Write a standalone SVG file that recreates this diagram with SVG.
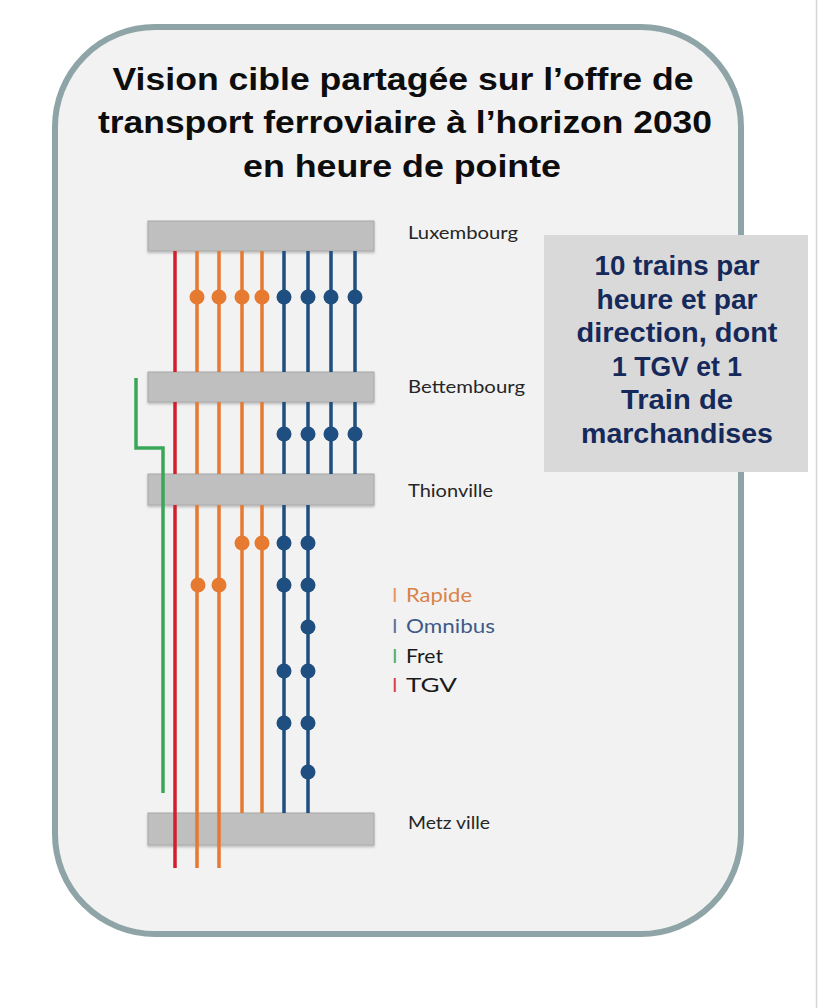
<svg xmlns="http://www.w3.org/2000/svg" width="820" height="1008" viewBox="0 0 820 1008">
<defs>
<style>
.title{font-family:"Liberation Sans",Arial,sans-serif;font-weight:bold;font-size:32px;fill:#0d0d0d;text-anchor:middle}
.info{font-family:"Liberation Sans",Arial,sans-serif;font-weight:bold;font-size:27px;fill:#15295a;text-anchor:middle}
.st{font-family:Lato,"Open Sans",sans-serif;font-size:18px;fill:#262626}
.lg{font-family:Lato,"Open Sans",sans-serif;font-size:20px}
.bar{fill:#bfbfbf;stroke:#a8a8a8;stroke-width:1}
.ln{fill:none;stroke-width:3.5}
.red{stroke:#d2202a}.org{stroke:#e57a30}.blu{stroke:#1f4e80}.grn{stroke:#3aa657}
.dO{fill:#e57a30}.dB{fill:#1f4e80}
</style>
<filter id="sh" x="-5%" y="-20%" width="110%" height="150%"><feDropShadow dx="0" dy="1.5" stdDeviation="1" flood-color="#000" flood-opacity="0.25"/></filter>
</defs>
<rect x="0" y="0" width="820" height="1008" fill="#ffffff"/>
<line x1="816.5" y1="0" x2="816.5" y2="1008" stroke="#d6d6d6" stroke-width="1.5"/>
<g id="frame">
<rect x="55" y="27" width="686" height="907" rx="100" ry="100" fill="#f2f2f2" stroke="#8ea4a6" stroke-width="6"/>
</g>
<g id="title">
<text class="title" x="403" y="90" textLength="581" lengthAdjust="spacingAndGlyphs">Vision cible partagée sur l’offre de</text>
<text class="title" x="405" y="133" textLength="614" lengthAdjust="spacingAndGlyphs">transport ferroviaire à l’horizon 2030</text>
<text class="title" x="402" y="177" textLength="318" lengthAdjust="spacingAndGlyphs">en heure de pointe</text>
</g>
<g id="info-box">
<rect x="544" y="235" width="264" height="237" fill="#d9d9d9"/>
<text class="info" x="677" y="275" textLength="165" lengthAdjust="spacingAndGlyphs">10 trains par</text>
<text class="info" x="677" y="309" textLength="161" lengthAdjust="spacingAndGlyphs">heure et par</text>
<text class="info" x="677" y="342" textLength="201" lengthAdjust="spacingAndGlyphs">direction, dont</text>
<text class="info" x="677" y="376" textLength="130" lengthAdjust="spacingAndGlyphs">1 TGV et 1</text>
<text class="info" x="677" y="409" textLength="112" lengthAdjust="spacingAndGlyphs">Train de</text>
<text class="info" x="677" y="443" textLength="192" lengthAdjust="spacingAndGlyphs">marchandises</text>
</g>
<g id="station-luxembourg">
<rect class="bar" x="148" y="221" width="226" height="30" filter="url(#sh)"/>
<text class="st" x="408" y="239" textLength="110" lengthAdjust="spacingAndGlyphs">Luxembourg</text>
</g>
<g id="station-bettembourg">
<rect class="bar" x="148" y="372" width="226" height="30" filter="url(#sh)"/>
<text class="st" x="408" y="393" textLength="117" lengthAdjust="spacingAndGlyphs">Bettembourg</text>
</g>
<g id="station-thionville">
<rect class="bar" x="148" y="474" width="226" height="31" filter="url(#sh)"/>
<text class="st" x="408" y="497" textLength="85" lengthAdjust="spacingAndGlyphs">Thionville</text>
</g>
<g id="station-metz">
<rect class="bar" x="148" y="813" width="226" height="32" filter="url(#sh)"/>
<text class="st" x="408" y="829" textLength="82" lengthAdjust="spacingAndGlyphs">Metz ville</text>
</g>
<g id="connectors">
<path class="ln red" d="M175 251V372M175 402V474M175 505V868"/>
<path class="ln org" d="M197 251V372M197 402V474M197 505V868"/>
<path class="ln org" d="M219 251V372M219 402V474M219 505V868"/>
<path class="ln org" d="M242 251V372M242 402V474M242 505V813"/>
<path class="ln org" d="M262 251V372M262 402V474M262 505V813"/>
<path class="ln blu" d="M284 251V372M284 402V474M284 505V813"/>
<path class="ln blu" d="M308 251V372M308 402V474M308 505V813"/>
<path class="ln blu" d="M331 251V372M331 402V474"/>
<path class="ln blu" d="M355 251V372M355 402V474"/>
<path class="ln grn" d="M136 378V448H163V793"/>
<g class="dO">
<circle cx="197" cy="297" r="7.5"/><circle cx="219" cy="297" r="7.5"/><circle cx="242" cy="297" r="7.5"/><circle cx="262" cy="297" r="7.5"/>
<circle cx="242" cy="543" r="7.5"/><circle cx="262" cy="543" r="7.5"/>
<circle cx="198" cy="585" r="7.5"/><circle cx="219" cy="585" r="7.5"/>
</g>
<g class="dB">
<circle cx="284" cy="297" r="7.5"/><circle cx="308" cy="297" r="7.5"/><circle cx="331" cy="297" r="7.5"/><circle cx="355" cy="297" r="7.5"/>
<circle cx="284" cy="434" r="7.5"/><circle cx="308" cy="434" r="7.5"/><circle cx="331" cy="434" r="7.5"/><circle cx="355" cy="434" r="7.5"/>
<circle cx="284" cy="543" r="7.5"/><circle cx="308" cy="543" r="7.5"/>
<circle cx="284" cy="585" r="7.5"/><circle cx="308" cy="585" r="7.5"/>
<circle cx="308" cy="627" r="7.5"/>
<circle cx="284" cy="671" r="7.5"/><circle cx="308" cy="671" r="7.5"/>
<circle cx="284" cy="723" r="7.5"/><circle cx="308" cy="723" r="7.5"/>
<circle cx="308" cy="772" r="7.5"/>
</g>
</g>
<g id="legend">
<text class="lg" x="392" y="602"><tspan fill="#e8965e">I</tspan><tspan fill="#d9834a" x="406" textLength="66" lengthAdjust="spacingAndGlyphs">Rapide</tspan></text>
<text class="lg" x="392" y="633"><tspan fill="#5a7099">I</tspan><tspan fill="#3e5a88" x="406" textLength="89" lengthAdjust="spacingAndGlyphs">Omnibus</tspan></text>
<text class="lg" x="392" y="663"><tspan fill="#4caf6e">I</tspan><tspan fill="#1a1a1a" x="406" textLength="37" lengthAdjust="spacingAndGlyphs">Fret</tspan></text>
<text class="lg" x="392" y="692"><tspan fill="#d8404a">I</tspan><tspan fill="#1a1a1a" x="406" textLength="51" lengthAdjust="spacingAndGlyphs">TGV</tspan></text>
</g>
</svg>
